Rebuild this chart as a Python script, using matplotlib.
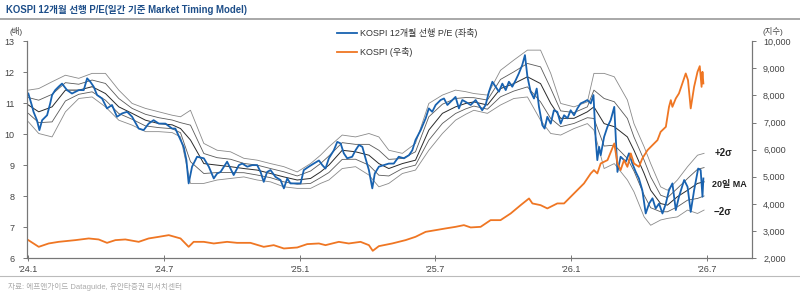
import matplotlib
matplotlib.use('Agg')
import matplotlib.pyplot as plt
import numpy as np

plt.rcParams['font.family'] = ['Liberation Sans', 'Noto Sans CJK KR', 'DejaVu Sans']

# x values: months since Jan 2024
pe_x = [0.0, 0.15, 0.23, 0.38, 0.49, 0.61, 0.83, 0.97, 1.05, 1.19, 1.34, 1.49, 1.71, 1.93, 2.23, 2.45,
        2.60, 2.74, 2.89, 3.04, 3.26, 3.48, 3.70, 3.92, 4.15, 4.37, 4.59, 4.88, 5.10, 5.32, 5.54, 5.77,
        6.06, 6.36, 6.50, 6.73, 6.87, 6.99, 7.09, 7.24, 7.46, 7.76, 7.98, 8.20, 8.35, 8.50, 8.79, 8.94,
        9.08, 9.31, 9.46, 9.68, 9.90, 10.12, 10.27, 10.41, 10.56, 10.71, 10.93, 11.15, 11.30, 11.45,
        11.59, 11.81, 12.04, 12.18, 12.40, 12.62, 12.85, 13.00, 13.14, 13.29, 13.51, 13.66, 13.81,
        13.95, 14.10, 14.32, 14.47, 14.62, 14.77, 14.91, 15.06, 15.21, 15.32, 15.50, 15.72, 15.94,
        16.16, 16.38, 16.61, 16.83, 16.98, 17.12, 17.35, 17.57, 17.71, 17.86, 18.01, 18.23, 18.38,
        18.53, 18.67, 18.89, 19.04, 19.19, 19.34, 19.56, 19.78, 19.92, 20.07, 20.22, 20.37, 20.52,
        20.66, 20.81, 20.96, 21.11, 21.25, 21.40, 21.55, 21.69, 21.84, 21.96, 22.07, 22.21, 22.36,
        22.48, 22.58, 22.73, 22.83, 22.95, 23.10, 23.24, 23.39, 23.54, 23.69, 23.84, 23.98, 24.13,
        24.28, 24.42, 24.57, 24.72, 24.87, 24.99, 25.09, 25.16, 25.24, 25.31, 25.46, 25.61, 25.75,
        25.91, 26.05, 26.19, 26.42, 26.56, 26.71, 26.86, 27.00, 27.15, 27.30, 27.45, 27.60, 27.74,
        27.89, 28.04, 28.19, 28.33, 28.48, 28.63, 28.77, 29.00, 29.15, 29.29, 29.44, 29.62, 29.73,
        29.81, 29.85]
pe = [11.31, 10.94, 10.72, 10.45, 10.13, 10.45, 10.61, 11.00, 11.26, 11.42, 11.53, 11.63, 11.42, 11.31,
      11.42, 11.42, 11.80, 11.69, 11.53, 11.26, 11.15, 10.83, 10.94, 10.56, 10.67, 10.72, 10.56, 10.18,
      10.13, 10.34, 10.45, 10.34, 10.34, 10.18, 10.18, 9.81, 9.59, 9.16, 8.41, 8.95, 9.27, 9.22, 8.95,
      8.57, 8.73, 8.78, 9.11, 8.89, 8.68, 9.00, 9.05, 8.95, 9.00, 9.00, 8.78, 8.46, 8.78, 8.84, 8.62,
      8.52, 8.25, 8.57, 8.41, 8.41, 8.41, 8.84, 8.95, 9.05, 9.15, 9.00, 8.89, 9.22, 9.48, 9.75, 9.70,
      9.38, 9.22, 9.27, 9.48, 9.65, 9.59, 9.22, 8.84, 8.25, 8.73, 8.95, 9.00, 9.05, 9.05, 9.27, 9.22,
      9.32, 9.48, 9.81, 10.13, 10.51, 10.83, 10.72, 10.94, 11.10, 11.15, 10.94, 11.04, 11.20, 10.83,
      11.10, 11.04, 10.94, 11.10, 10.94, 10.77, 10.94, 11.37, 11.69, 11.53, 11.37, 11.63, 11.42, 11.69,
      11.53, 11.74, 11.96, 12.23, 12.55, 11.85, 11.37, 11.15, 11.47, 10.88, 10.29, 10.18, 10.56, 10.34,
      10.77, 10.72, 10.34, 10.61, 10.51, 10.77, 10.61, 10.83, 10.99, 11.04, 11.10, 10.99, 11.26, 9.81,
      9.16, 9.59, 9.32, 9.91, 10.24, 10.45, 10.88, 8.78, 9.27, 9.11, 9.38, 9.05, 8.78, 8.57, 8.19, 7.44,
      7.76, 7.93, 7.60, 7.76, 7.44, 7.76, 8.19, 8.41, 7.55, 7.98, 8.52, 8.30, 7.49, 8.19, 8.89, 8.84,
      7.98, 8.57]

kospi_x = [0.0, 0.46, 0.90, 1.34, 2.08, 2.67, 3.11, 3.48, 3.85, 4.29, 4.88, 5.32, 5.77, 6.21, 6.73, 7.09,
           7.31, 7.76, 8.20, 8.79, 9.23, 9.82, 10.41, 10.85, 11.30, 11.89, 12.33, 12.85, 13.14, 13.73,
           14.17, 14.69, 15.06, 15.23, 15.50, 16.09, 16.68, 17.12, 17.57, 18.01, 18.45, 18.89, 19.26,
           19.56, 20.00, 20.44, 20.88, 21.33, 21.77, 22.14, 22.29, 22.65, 22.95, 23.39, 23.69, 24.13,
           24.57, 24.87, 25.01, 25.16, 25.31, 25.61, 25.91, 26.05, 26.19, 26.34, 26.49, 26.64, 26.78,
           27.00, 27.15, 27.38, 27.60, 27.82, 27.96, 28.19, 28.33, 28.41, 28.48, 28.63, 28.77, 28.92,
           29.07, 29.17, 29.29, 29.44, 29.59, 29.69, 29.77, 29.81, 29.85]
kospi = [2663, 2416, 2540, 2600, 2663, 2725, 2688, 2563, 2663, 2688, 2600, 2725, 2785, 2847, 2725, 2416,
         2600, 2600, 2540, 2600, 2563, 2563, 2416, 2478, 2355, 2392, 2516, 2540, 2478, 2600, 2540, 2600,
         2478, 2269, 2441, 2540, 2663, 2785, 2969, 3031, 3094, 3153, 3216, 3131, 3153, 3400, 3400, 3647,
         3953, 4200, 4016, 3953, 3832, 4016, 4016, 4385, 4753, 5122, 5244, 5122, 5491, 5613, 6228, 5491,
         5244, 5613, 5366, 5860, 5491, 5366, 5675, 5981, 6166, 6350, 6656, 6840, 7578, 7825, 7578, 7887,
         8072, 8440, 8809, 8562, 7519, 8315, 8868, 9078, 8315, 8868, 8440]

# 20-day MA and +/-2 sigma envelope
band_x = [0.0, 0.46, 1.05, 1.64, 2.23, 2.82, 3.41, 4.00, 4.59, 5.18, 5.77, 6.36, 6.73, 7.17, 7.76, 8.35,
          8.94, 9.53, 10.12, 10.71, 11.30, 11.89, 12.48, 12.92, 13.29, 13.88, 14.47, 15.06, 15.50, 15.94,
          16.54, 17.12, 17.71, 18.31, 18.89, 19.34, 19.70, 20.30, 20.88, 21.47, 22.07, 22.65, 23.10,
          23.54, 24.13, 24.72, 25.01, 25.46, 25.91, 26.49, 26.78, 27.23, 27.52, 27.96, 28.26, 28.70,
          29.15, 29.59, 29.88]
band_up = [11.42, 11.47, 11.69, 11.90, 11.80, 11.96, 11.96, 11.42, 10.99, 10.83, 10.72, 10.61, 10.56, 10.77,
           9.70, 9.48, 9.43, 9.22, 9.16, 9.05, 8.95, 8.78, 9.05, 9.32, 9.59, 9.97, 9.91, 10.02, 9.91, 9.48,
           9.38, 9.70, 10.99, 11.26, 11.42, 11.37, 11.31, 11.26, 12.06, 12.39, 12.71, 12.71, 11.96, 10.99,
           10.88, 11.04, 11.96, 11.96, 11.85, 11.10, 10.34, 9.59, 9.05, 8.30, 8.19, 8.52, 8.95, 9.32, 9.38]
band_ma = [10.94, 10.72, 10.88, 11.42, 11.42, 11.53, 11.31, 10.88, 10.67, 10.45, 10.34, 10.30, 10.18, 9.81,
           9.05, 9.00, 8.95, 8.89, 8.84, 8.73, 8.62, 8.52, 8.57, 8.78, 9.00, 9.48, 9.43, 9.32, 9.05, 8.89,
           9.05, 9.16, 10.13, 10.67, 10.88, 10.99, 11.04, 10.94, 11.47, 11.63, 11.85, 11.63, 10.99, 10.51,
           10.51, 10.72, 10.88, 10.34, 10.24, 9.91, 9.48, 8.73, 8.19, 7.76, 7.71, 7.98, 8.19, 8.41, 8.46]
band_lo = [10.40, 10.02, 9.91, 10.72, 11.15, 11.20, 10.88, 10.45, 10.29, 10.08, 10.08, 10.05, 9.91, 8.41,
           8.41, 8.52, 8.57, 8.62, 8.52, 8.46, 8.30, 8.25, 8.25, 8.41, 8.52, 8.89, 8.95, 8.68, 8.30, 8.41,
           8.73, 8.84, 9.48, 10.02, 10.45, 10.64, 10.77, 10.67, 10.94, 11.15, 11.20, 10.45, 10.02, 9.97,
           10.18, 10.34, 10.13, 8.89, 9.05, 8.52, 8.14, 7.33, 7.06, 7.23, 7.28, 7.33, 7.55, 7.44, 7.55]

tick_pos = [0, 6, 12, 18, 24, 30]
tick_labels = ["'24.1", "'24.7", "'25.1", "'25.7", "'26.1", "'26.7"]

fig = plt.figure(figsize=(8, 2.96), dpi=100)
ax = fig.add_axes([0.034, 0.128, 0.906, 0.733])
ax2 = ax.twinx()

up = np.array(band_up)
ma = np.array(band_ma)
lo = np.array(band_lo)
ax.plot(band_x, up, color='#8a8a8a', lw=0.6)
ax.plot(band_x, (up + ma) / 2, color='#5a5a5a', lw=0.6)
ax.plot(band_x, ma, color='#2a2a2a', lw=0.7)
ax.plot(band_x, (lo + ma) / 2, color='#5a5a5a', lw=0.6)
ax.plot(band_x, lo, color='#8a8a8a', lw=0.6)

l1, = ax.plot(pe_x, pe, color='#1862b0', lw=1.3)
l2, = ax2.plot(kospi_x, kospi, color='#ef7623', lw=1.3)

ax.set_xlim(-0.05, 32.0)
ax.set_ylim(6, 13)
ax2.set_ylim(2000, 10000)
ax.set_xticks(tick_pos)
ax.set_xticklabels(tick_labels)
ax.set_yticks(range(6, 14))
ax2.set_yticks(range(2000, 10001, 1000))
ax2.set_yticklabels([f'{v:,}' for v in range(2000, 10001, 1000)])

for a in (ax, ax2):
    a.spines['top'].set_visible(False)
    for s in ('left', 'right', 'bottom'):
        a.spines[s].set_color('#777777')
        a.spines[s].set_linewidth(0.8)
ax.tick_params(axis='y', direction='out', length=3, width=0.7, color='#777777', labelsize=6.5,
               labelcolor='#444444', pad=6)
ax.tick_params(axis='x', direction='inout', length=4, width=0.7, color='#777777', labelsize=6.5,
               labelcolor='#444444', pad=3)
ax2.tick_params(axis='y', direction='out', length=3, width=0.7, color='#777777', labelsize=6.5,
                labelcolor='#444444', pad=5)

ax.legend([l1, l2], ['KOSPI 12개월 선행 P/E (좌축)', 'KOSPI (우축)'], loc='upper left',
          bbox_to_anchor=(0.428, 1.06), frameon=False, fontsize=6.5, handlelength=2.2,
          labelspacing=1.0, borderaxespad=0, borderpad=0, handletextpad=0.3,
          labelcolor='#333333')

ax.text(30.35, 9.39, '+2σ', fontsize=7, fontweight='bold', color='#222222', va='center')
ax.text(30.25, 8.39, '20일 MA', fontsize=6.5, fontweight='bold', color='#222222', va='center')
ax.text(30.3, 7.48, '−2σ', fontsize=7, fontweight='bold', color='#222222', va='center')

fig.text(0.008, 0.965, 'KOSPI 12개월 선행 P/E(일간 기준 Market Timing Model)', fontsize=6.9,
         fontweight='bold', color='#1d4e89', va='center', ha='left')
fig.add_artist(plt.Line2D([0.0, 1.0], [0.935, 0.935], color='#9a9a9a', lw=1.2, transform=fig.transFigure))
fig.text(0.012, 0.895, '(배)', fontsize=6, color='#444444', va='center')
fig.text(0.953, 0.895, '(지수)', fontsize=6, color='#444444', va='center')
fig.add_artist(plt.Line2D([0.0, 1.0], [0.068, 0.068], color='#bbbbbb', lw=0.8, transform=fig.transFigure))
fig.text(0.01, 0.03, '자료: 에프앤가이드 Dataguide, 유안타증권 리서치센터', fontsize=5.5,
         color='#aaaaaa', va='center')

fig.savefig('out.png', dpi=100)
